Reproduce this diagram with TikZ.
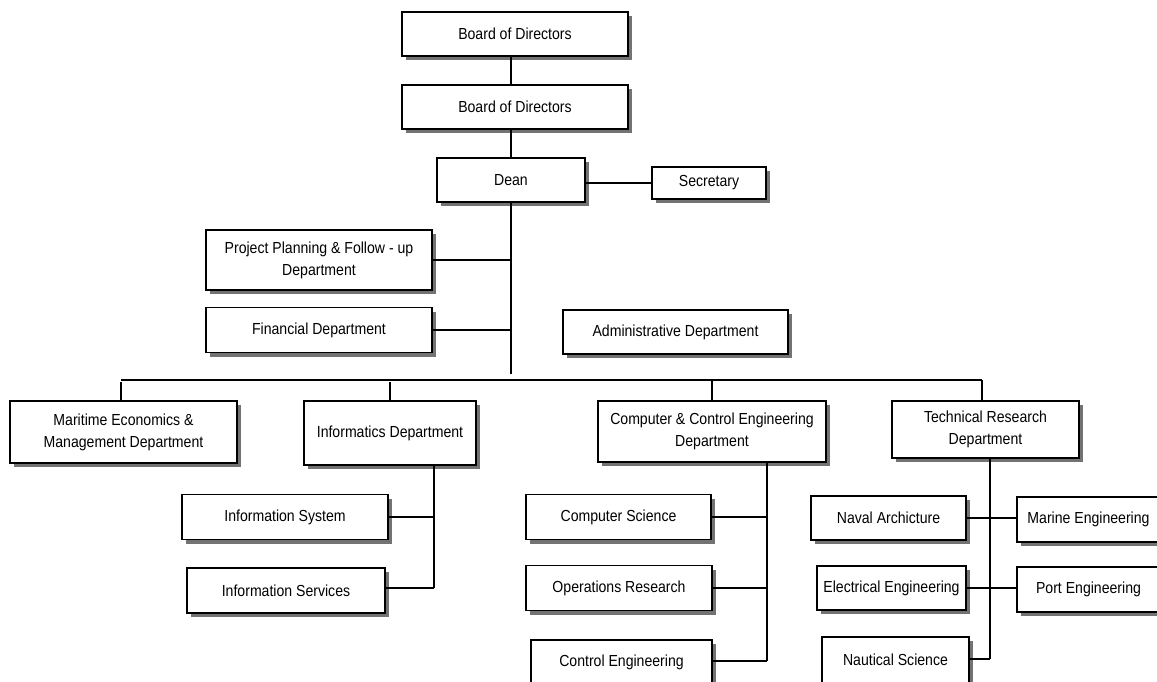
\documentclass[tikz,border=0pt]{standalone}
\usepackage{fontspec}
\setmainfont{Liberation Sans}[FakeStretch=0.88]
\usetikzlibrary{shadows}
\begin{document}
\begin{tikzpicture}[x=1pt,y=-1pt,
  box/.style={draw=black, line width=1.4pt, fill=white, rectangle, inner sep=2pt,
    align=center, font=\fontsize{16}{22}\selectfont,
    drop shadow={shadow xshift=4pt, shadow yshift=-4pt, fill=black!55, opacity=1}},
  link/.style={draw=black, line width=1.3pt}]
\clip (0,0) rectangle (1157,682);
\fill[white] (0,0) rectangle (1157,682);
% boxes
\node[box, minimum width=226pt, minimum height=44pt] (board1) at (515,34) {Board of Directors};
\node[box, minimum width=226pt, minimum height=44pt] (board2) at (515,107) {Board of Directors};
\node[box, minimum width=148pt, minimum height=44pt] (dean) at (511,180) {Dean};
\node[box, minimum width=114pt, minimum height=32pt] (secretary) at (709,183) {Secretary};
\node[box, minimum width=226pt, minimum height=60pt] (planning) at (319,260) {Project Planning \& Follow - up\\Department};
\node[box, minimum width=226pt, minimum height=45pt] (financial) at (319,330) {Financial Department};
\node[box, minimum width=225pt, minimum height=44pt] (admin) at (675.5,332) {Administrative Department};
\node[box, minimum width=227pt, minimum height=62pt] (maritime) at (123.5,432) {Maritime Economics \&\\Management Department};
\node[box, minimum width=172pt, minimum height=64pt] (informatics) at (390,433) {Informatics Department};
\node[box, minimum width=228pt, minimum height=61pt] (cce) at (712,431.5) {Computer \& Control Engineering\\Department};
\node[box, minimum width=187pt, minimum height=57pt] (trd) at (985.5,429.5) {Technical Research\\Department};
\node[box, minimum width=206pt, minimum height=45pt] (infosys) at (285,517) {Information System};
\node[box, minimum width=198pt, minimum height=45pt] (infoserv) at (286,590.5) {Information Services};
\node[box, minimum width=185pt, minimum height=45pt] (compsci) at (618.5,517) {Computer Science};
\node[box, minimum width=186pt, minimum height=45pt] (opres) at (619,588) {Operations Research};
\node[box, minimum width=181pt, minimum height=44pt] (ctrl) at (621.5,662) {Control Engineering};
\node[box, minimum width=155pt, minimum height=44pt] (naval) at (888.5,518) {Naval Archicture};
\node[box, minimum width=143pt, minimum height=45pt] (marine) at (1088.5,519.5) {Marine Engineering};
\node[box, minimum width=149pt, minimum height=44pt] (electrical) at (891.5,588) {Electrical Engineering};
\node[box, minimum width=143pt, minimum height=45pt] (port) at (1088.5,589.5) {Port Engineering};
\node[box, minimum width=147pt, minimum height=46pt] (nautical) at (895.5,660) {Nautical Science};
% coordinates
\coordinate (trunkEnd) at (511,374);
\coordinate (busL) at (121,380);
\coordinate (busR) at (982,380);
\coordinate (infoV) at (434,588);
\coordinate (cceV) at (767,661);
\coordinate (trdV) at (990,659);
% connectors
\draw[link] (board1.south -| dean.north) -- (board2.north -| dean.north);
\draw[link] (board2.south -| dean.north) -- (dean.north);
\draw[link] (dean.east |- secretary.west) -- (secretary.west);
\draw[link] (dean.south) -- (trunkEnd);
\draw[link] (planning.east) -- (planning.east -| trunkEnd);
\draw[link] (financial.east) -- (financial.east -| trunkEnd);
\draw[link] (busL) -- (busR);
\draw[link] ([yshift=-2pt]busL) -- (busL |- maritime.north);
\draw[link] ([yshift=-2pt]informatics.north |- busL) -- (informatics.north);
\draw[link] (cce.north |- busL) -- (cce.north);
\draw[link] (busR) -- (busR |- trd.north);
\draw[link] (informatics.south -| infoV) -- (infoV);
\draw[link] (infosys.east) -- (infosys.east -| infoV);
\draw[link] (infoserv.east |- infoV) -- (infoV);
\draw[link] (cce.south -| cceV) -- (cceV);
\draw[link] (compsci.east) -- (compsci.east -| cceV);
\draw[link] (opres.east) -- (opres.east -| cceV);
\draw[link] (ctrl.east |- cceV) -- (cceV);
\draw[link] (trd.south -| trdV) -- (trdV);
\draw[link] (naval.east) -- (naval.east -| marine.west);
\draw[link] (electrical.east) -- (electrical.east -| port.west);
\draw[link] (nautical.east |- trdV) -- (trdV);
\end{tikzpicture}
\end{document}
